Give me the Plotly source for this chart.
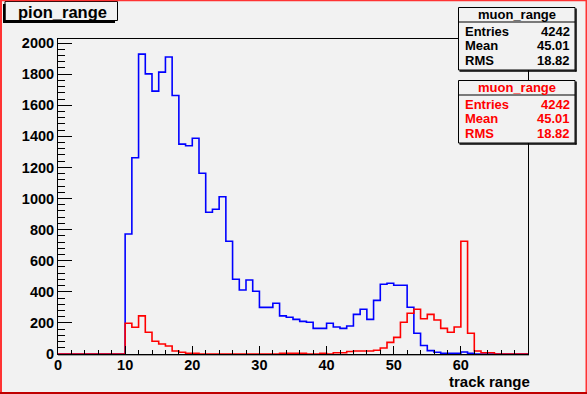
import plotly.graph_objects as go

# ---------------- data ----------------
bin_edges = list(range(0, 71))  # 70 bins of width 1 from 0 to 70

blue_counts = [0]*10 + [
    772, 1262, 1929, 1802, 1691, 1813, 1910, 1663, 1350, 1339,   # 10-19
    1388, 1163, 912, 931, 1011, 725, 481, 412, 476, 404,          # 20-29
    300, 300, 326, 245, 236, 223, 210, 204, 165, 165,             # 30-39
    198, 174, 165, 180, 255, 288, 223, 345, 449, 455,             # 40-49
    442, 442, 301, 133, 55, 22, 11, 4, 4, 4,                      # 50-59
    13, 4, 0, 0, 0, 0, 0, 0, 0, 0]                                # 60-69

red_counts = [0]*10 + [
    198, 172, 245, 140, 82, 64, 51, 19, 11, 4,                    # 10-19
    4, 0, 0, 0, 0, 0, 0, 0, 0, 0,                                 # 20-29
    0, 0, 0, 4, 4, 4, 4, 0, 0, 4,                                 # 30-39
    0, 8, 8, 16, 19, 19, 19, 24, 39, 75,                          # 40-49
    107, 204, 262, 288, 227, 255, 219, 165, 140, 174,             # 50-59
    725, 133, 19, 8, 8, 0, 0, 0, 0, 0]                            # 60-69

x_ticks = [0, 10, 20, 30, 40, 50, 60]
y_ticks = list(range(0, 2001, 200))

title_text = "pion_range"
x_title = "track range"
stats_name = "muon_range"
stats_labels = ["Entries", "Mean", "RMS"]
stats_values = ["4242", "45.01", "18.82"]

# ---------------- layout geometry ----------------
W_PX, H_PX = 587, 394
L, R, T, B = 58, 528, 39, 354
PW, PH = R - L, B - T
BG = "#f2f2f2"
FONT = "Liberation Sans"


def px(x, y):
    return (x - L) / PW, (B - y) / PH


def rect(x0, y0, x1, y1, fill=None, line_color=None, lw=0):
    a = px(x0, y0)
    b = px(x1, y1)
    d = dict(type="rect", xref="paper", yref="paper", layer="above",
             x0=a[0], y0=b[1], x1=b[0], y1=a[1],
             line=dict(width=lw, color=line_color or "rgba(0,0,0,0)"))
    if fill:
        d["fillcolor"] = fill
    return d


def hline(x0, x1, y, color="black", lw=1):
    a = px(x0, y)
    b = px(x1, y)
    return dict(type="line", xref="paper", yref="paper", layer="above",
                x0=a[0], y0=a[1], x1=b[0], y1=b[1], line=dict(color=color, width=lw))


def vline(x, y0, y1, color="black", lw=1):
    a = px(x, y0)
    b = px(x, y1)
    return dict(type="line", xref="paper", yref="paper", layer="above",
                x0=a[0], y0=a[1], x1=b[0], y1=b[1], line=dict(color=color, width=lw))


def text(s, x, y, xanchor, color="black", size=13):
    p = px(x, y)
    return dict(text=s, xref="paper", yref="paper", x=p[0], y=p[1],
                xanchor=xanchor, yanchor="middle", showarrow=False,
                font=dict(family=FONT, size=size, color=color, weight="bold"))


fig = go.Figure()

step_x = bin_edges
fig.add_trace(go.Scatter(x=step_x, y=blue_counts + [blue_counts[-1]], mode="lines",
                         line=dict(color="#0000ff", width=1.6, shape="hv"),
                         hoverinfo="skip", showlegend=False))
fig.add_trace(go.Scatter(x=step_x, y=red_counts + [red_counts[-1]], mode="lines",
                         line=dict(color="#ff0000", width=1.6, shape="hv"),
                         hoverinfo="skip", showlegend=False))

shapes = []
annotations = []

# frame shadow
shapes.append(hline(L, R + 1, B + 1.5, color="#a0a0a0", lw=1))

# title box
shapes.append(rect(5, 1.5, 117.5, 20.5, fill=BG, line_color="black", lw=1))
shapes.append(rect(3, 4, 5.5, 23, fill="black"))
shapes.append(rect(3, 20.5, 115, 23, fill="black"))
annotations.append(text(title_text, 62, 11.5, "center", size=16.5))

# stats boxes
for (top, color) in [(7, "black"), (80, "#ff0000")]:
    bx0, bx1 = 458.5, 575
    by0, by1 = top + 0.5, top + 63
    shapes.append(rect(bx0, by0, bx1, by1, fill=BG, line_color="black", lw=1))
    shapes.append(vline(bx1 + 1, by0 + 1, by1 + 1.5, lw=1.5))
    shapes.append(hline(bx0 + 1, bx1 + 1.5, by1 + 1, lw=1.5))
    shapes.append(hline(bx0, bx1, top + 15, lw=1))
    annotations.append(text(stats_name, 517, top + 7.5, "center", color=color))
    for i, (lab, val) in enumerate(zip(stats_labels, stats_values)):
        yy = top + 24 + i * 14.7
        annotations.append(text(lab, 462.5, yy, "left", color=color))
        annotations.append(text(val, 571.5, yy, "right", color=color))

# x axis title
annotations.append(text(x_title, 532, 381, "right", size=15))

# canvas border
shapes.append(rect(0, 0, 2, 394, fill="#ff3333"))
shapes.append(rect(0, 0, 587, 1.2, fill="#ff3333"))
shapes.append(rect(585.5, 0, 587, 394, fill="#ff3333"))
shapes.append(rect(0, 392, 587, 394, fill="#c00000"))

tickfont = dict(family=FONT, size=14.5, color="black", weight="bold")

fig.update_layout(
    width=W_PX, height=H_PX,
    margin=dict(l=L, r=W_PX - R, t=T, b=H_PX - B, pad=0),
    paper_bgcolor=BG, plot_bgcolor=BG,
    shapes=shapes, annotations=annotations,
    showlegend=False,
    xaxis=dict(range=[0, 70], tickmode="array", tickvals=x_ticks,
               ticktext=[str(v) for v in x_ticks],
               ticks="inside", ticklen=8, tickwidth=1, tickcolor="black",
               minor=dict(dtick=2, ticks="inside", ticklen=4, tickwidth=1, tickcolor="black", showgrid=False),
               showgrid=False, zeroline=False, showline=True, mirror=True,
               linecolor="black", linewidth=1, tickfont=tickfont, ticklabelstandoff=-2),
    yaxis=dict(range=[0, 2026], tickmode="array", tickvals=y_ticks,
               ticktext=[str(v) for v in y_ticks],
               ticks="inside", ticklen=14, tickwidth=1, tickcolor="black",
               minor=dict(dtick=40, ticks="inside", ticklen=7, tickwidth=1, tickcolor="black", showgrid=False),
               showgrid=False, zeroline=False, showline=True, mirror=True,
               linecolor="black", linewidth=1, tickfont=tickfont, ticklabelstandoff=0),
)

fig.write_html("out.html")
